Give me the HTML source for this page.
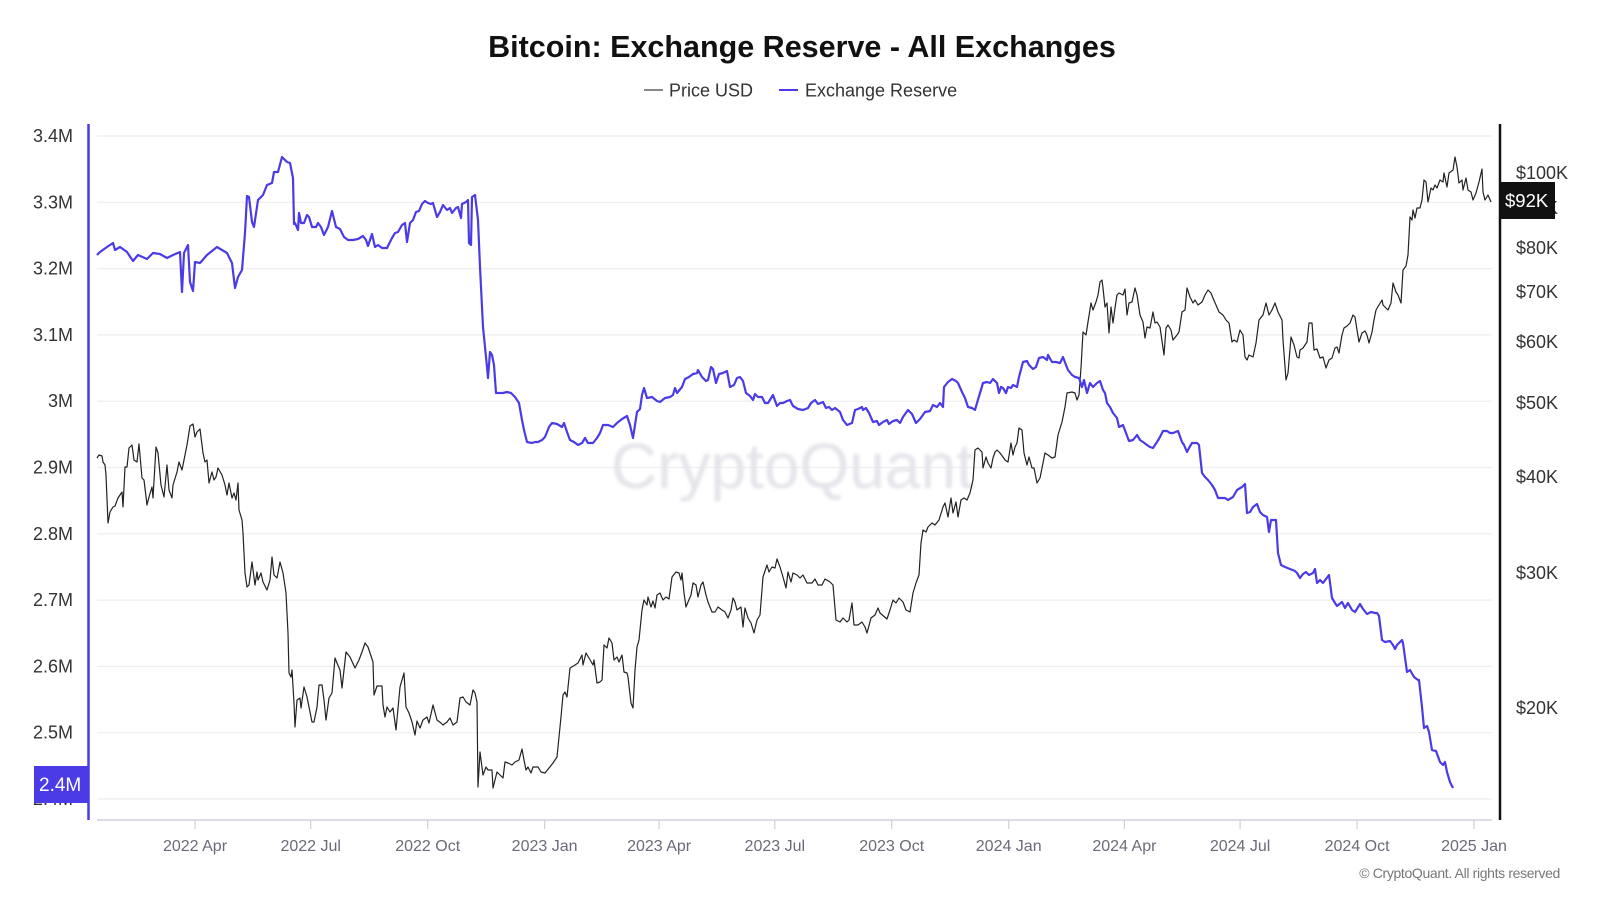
<!DOCTYPE html>
<html><head><meta charset="utf-8"><style>
html,body{margin:0;padding:0;background:#fff;}
svg{display:block;}
text{font-family:"Liberation Sans",sans-serif;}
</style></head><body>
<svg width="1600" height="900" viewBox="0 0 1600 900" xmlns="http://www.w3.org/2000/svg">
<rect width="1600" height="900" fill="#fff"/>
<text x="802" y="57" text-anchor="middle" font-size="30.5" font-weight="bold" fill="#111">Bitcoin: Exchange Reserve - All Exchanges</text>
<line x1="644" y1="90" x2="663" y2="90" stroke="#888" stroke-width="2"/>
<text x="669" y="96.5" font-size="18" fill="#333">Price USD</text>
<line x1="779" y1="90" x2="798" y2="90" stroke="#4b3be6" stroke-width="2"/>
<text x="805" y="96.5" font-size="18" fill="#333">Exchange Reserve</text>
<g stroke="#eeeef2" stroke-width="1.2">
<line x1="97" x2="1492" y1="136" y2="136"/><line x1="97" x2="1492" y1="202.3" y2="202.3"/><line x1="97" x2="1492" y1="268.6" y2="268.6"/><line x1="97" x2="1492" y1="334.9" y2="334.9"/><line x1="97" x2="1492" y1="401.2" y2="401.2"/><line x1="97" x2="1492" y1="467.5" y2="467.5"/><line x1="97" x2="1492" y1="533.8" y2="533.8"/><line x1="97" x2="1492" y1="600.1" y2="600.1"/><line x1="97" x2="1492" y1="666.4" y2="666.4"/><line x1="97" x2="1492" y1="732.7" y2="732.7"/><line x1="97" x2="1492" y1="799" y2="799"/>
</g>
<text x="611" y="488" font-size="64" fill="#e4e4ea" style="filter:blur(1.5px)">CryptoQuant</text>
<g font-size="18" fill="#333" text-anchor="end">
<text x="73" y="142">3.4M</text><text x="73" y="208.3">3.3M</text><text x="73" y="274.6">3.2M</text><text x="73" y="340.9">3.1M</text><text x="73" y="407.2">3M</text><text x="73" y="473.5">2.9M</text><text x="73" y="539.8">2.8M</text><text x="73" y="606.1">2.7M</text><text x="73" y="672.4">2.6M</text><text x="73" y="738.7">2.5M</text><text x="73" y="805">2.4M</text>
</g>
<g font-size="18" fill="#333">
<text x="1516" y="179">$100K</text><text x="1516" y="214">$90K</text><text x="1516" y="254">$80K</text><text x="1516" y="298">$70K</text><text x="1516" y="348">$60K</text><text x="1516" y="409">$50K</text><text x="1516" y="483">$40K</text><text x="1516" y="579">$30K</text><text x="1516" y="714">$20K</text>
</g>
<line x1="97" x2="1492" y1="820" y2="820" stroke="#d0d0dc" stroke-width="1.5"/>
<g stroke="#d0d0dc" stroke-width="1.2">
<line x1="195" x2="195" y1="820" y2="829"/><line x1="310.7" x2="310.7" y1="820" y2="829"/><line x1="427.7" x2="427.7" y1="820" y2="829"/><line x1="544.6" x2="544.6" y1="820" y2="829"/><line x1="659.1" x2="659.1" y1="820" y2="829"/><line x1="774.8" x2="774.8" y1="820" y2="829"/><line x1="891.7" x2="891.7" y1="820" y2="829"/><line x1="1008.7" x2="1008.7" y1="820" y2="829"/><line x1="1124.4" x2="1124.4" y1="820" y2="829"/><line x1="1240.1" x2="1240.1" y1="820" y2="829"/><line x1="1357.1" x2="1357.1" y1="820" y2="829"/><line x1="1474" x2="1474" y1="820" y2="829"/>
</g>
<g font-size="16" fill="#6b6b78" text-anchor="middle">
<text x="195" y="851">2022 Apr</text><text x="310.7" y="851">2022 Jul</text><text x="427.7" y="851">2022 Oct</text><text x="544.6" y="851">2023 Jan</text><text x="659.1" y="851">2023 Apr</text><text x="774.8" y="851">2023 Jul</text><text x="891.7" y="851">2023 Oct</text><text x="1008.7" y="851">2024 Jan</text><text x="1124.4" y="851">2024 Apr</text><text x="1240.1" y="851">2024 Jul</text><text x="1357.1" y="851">2024 Oct</text><text x="1474" y="851">2025 Jan</text>
</g>
<text x="1560" y="878" text-anchor="end" font-size="14" letter-spacing="-0.35" fill="#777">© CryptoQuant. All rights reserved</text>
<polyline fill="none" stroke="#222" stroke-width="1.2" stroke-linejoin="round" points="97,458 99,455 102,456 103,462 105,465 106,475 108,523 110,512 113,507 115,506 118,498 122,492 123,507 125,467 127,467 129,448 132,445 134,460 137,462 139,444 142,478 144,480 147,505 149,497 152,487 153,498 156,447 158,453 161,485 164,497 167,465 169,490 172,498 173,485 177,472 179,462 182,470 185,455 187,445 190,426 193,424 195,437 197,432 200,429 203,453 205,462 207,460 209,483 212,472 214,480 216,477 218,468 222,475 225,485 227,495 229,483 232,498 234,493 236,500 238,483 239,510 242,520 243,533 245,573 247,587 249,585 252,562 255,585 257,572 258,580 261,573 263,582 267,590 270,580 272,557 274,575 277,578 280,562 283,573 286,593 288,633 289,673 291,677 292,670 294,703 295,727 297,700 300,698 301,708 304,687 307,697 309,707 312,722 314,722 317,707 319,685 322,685 324,700 326,720 329,698 332,693 335,658 337,663 340,670 342,688 346,652 350,657 355,668 359,660 362,652 365,643 368,647 373,662 374,695 377,686 382,686 383,705 385,717 387,707 390,712 393,708 396,730 400,687 404,673 406,707 409,713 412,722 415,735 417,721 420,728 423,720 427,717 429,723 433,705 437,720 441,723 443,725 447,722 450,718 453,725 457,722 460,698 463,697 466,702 470,705 473,690 475,693 477,702 478,787 480,752 483,775 486,767 488,770 492,770 493,788 497,772 500,775 503,778 505,762 508,763 512,765 515,762 519,760 522,749 524,760 526,770 528,767 531,773 533,767 538,767 541,772 545,773 549,768 553,763 557,757 558,747 561,717 563,695 565,692 567,697 570,668 575,665 578,663 582,655 583,665 586,653 589,658 593,665 594,660 597,683 600,682 602,680 604,645 607,648 609,638 612,643 614,660 617,657 619,662 622,655 624,672 627,673 628,677 631,703 633,708 635,670 637,647 639,640 642,610 644,600 647,605 648,597 651,607 653,601 655,608 657,595 660,593 663,600 666,597 669,599 672,577 676,572 679,573 681,580 682,573 684,593 686,607 688,602 691,595 693,583 696,585 698,597 701,585 703,582 706,595 708,602 712,612 715,612 718,607 722,610 725,612 728,618 731,610 733,598 735,602 737,610 741,607 743,627 745,608 748,618 751,623 754,633 757,620 760,615 763,577 767,565 769,572 772,567 775,568 777,559 780,567 783,577 786,588 788,572 791,582 793,573 797,575 800,578 803,575 807,583 812,583 815,579 818,585 822,585 825,579 830,582 833,585 836,620 840,622 843,618 847,622 849,620 852,603 854,625 858,625 862,622 865,627 867,633 871,618 875,615 878,608 880,613 887,619 890,610 893,600 896,603 899,598 903,602 906,610 910,612 913,593 916,583 919,575 921,543 923,530 926,532 928,527 932,523 935,525 939,520 943,507 945,503 948,517 951,498 953,513 956,502 958,517 961,500 964,498 967,500 970,493 973,480 975,450 978,448 982,452 983,468 986,457 988,463 991,468 993,458 995,452 997,450 1000,453 1003,457 1005,460 1008,462 1011,443 1013,455 1015,447 1017,443 1019,428 1022,430 1024,453 1027,465 1029,457 1032,468 1034,468 1037,483 1040,478 1043,463 1045,453 1048,455 1052,458 1055,457 1058,435 1062,422 1065,407 1067,393 1072,392 1075,393 1077,400 1079,395 1081,368 1083,332 1086,335 1088,322 1091,303 1093,310 1096,302 1098,295 1100,282 1102,280 1103,288 1105,307 1107,303 1109,333 1111,307 1113,323 1115,308 1117,295 1119,293 1123,295 1125,289 1127,315 1129,303 1132,302 1135,288 1137,295 1140,315 1143,322 1145,338 1147,327 1150,328 1153,312 1155,323 1157,322 1160,327 1164,355 1166,328 1168,325 1171,330 1173,340 1177,335 1179,332 1182,312 1185,310 1187,288 1190,297 1193,303 1195,300 1198,305 1202,302 1205,295 1208,290 1211,293 1213,298 1216,305 1219,312 1223,315 1226,320 1229,323 1232,342 1234,340 1237,342 1240,330 1243,335 1245,357 1247,360 1249,355 1253,357 1256,343 1259,320 1263,315 1266,303 1269,315 1272,310 1275,303 1278,312 1282,320 1283,340 1286,380 1288,373 1291,337 1294,345 1297,357 1299,358 1300,350 1303,348 1307,342 1309,323 1312,323 1314,350 1317,349 1320,358 1323,357 1326,368 1329,360 1332,358 1335,348 1337,347 1339,353 1342,335 1344,328 1347,326 1350,323 1353,315 1355,317 1357,330 1359,342 1362,333 1365,331 1367,335 1369,343 1372,332 1374,320 1376,310 1379,305 1382,300 1383,305 1386,308 1388,310 1391,303 1393,283 1396,292 1398,295 1401,303 1403,270 1406,266 1408,255 1410,217 1412,220 1413,210 1415,218 1417,208 1420,208 1422,200 1424,180 1426,182 1428,202 1431,188 1433,190 1435,185 1437,188 1440,180 1443,182 1444,173 1447,187 1449,173 1453,170 1455,157 1457,167 1459,183 1462,180 1463,190 1466,178 1468,190 1471,192 1473,200 1476,193 1479,182 1482,169 1483,192 1485,200 1488,195 1491,202"/>
<polyline fill="none" stroke="#4b3be6" stroke-width="2.2" stroke-linejoin="round" points="97,255 100,252 107,247 113,243 115,250 120,247 127,252 133,261 138,255 147,259 153,253 160,254 167,258 173,255 180,252 182,292 184,253 188,245 190,282 193,291 195,262 200,263 207,255 217,247 227,253 232,263 235,288 238,277 242,270 245,233 247,196 249,197 252,222 254,227 258,200 263,195 267,185 272,183 274,172 278,172 282,157 287,162 290,163 293,178 294,224 295,223 298,230 299,213 301,223 304,223 307,215 309,217 312,227 316,227 318,223 321,227 324,235 328,227 332,211 336,227 340,229 344,237 348,240 353,240 358,239 363,236 366,240 368,246 372,234 375,247 378,245 382,248 387,248 392,238 395,233 398,232 402,225 405,223 407,242 410,223 413,220 416,212 419,211 422,204 425,201 428,203 431,204 433,203 437,217 440,212 443,205 447,210 450,208 452,213 456,208 458,207 461,218 462,204 466,202 468,200 469,243 471,245 472,197 475,195 478,220 480,267 483,327 487,367 488,378 490,352 492,355 494,365 496,393 500,393 503,393 507,392 511,393 515,397 519,403 522,420 524,430 527,442 532,443 535,442 538,442 542,440 545,437 549,427 552,423 557,424 562,427 564,423 567,432 570,440 574,442 578,445 582,443 585,438 588,443 593,443 597,438 600,433 603,425 608,425 613,427 617,423 622,419 627,416 630,425 633,438 637,412 640,409 642,395 644,388 647,398 652,397 657,401 660,402 665,398 670,397 673,395 675,388 677,393 682,387 685,379 689,377 693,374 697,373 698,370 702,377 706,381 708,380 711,367 713,369 716,383 719,374 723,373 727,371 730,387 734,385 737,378 740,377 743,381 746,393 750,396 753,400 755,394 758,397 762,397 765,403 768,403 773,395 777,406 780,403 783,403 787,401 790,400 793,406 798,409 803,410 808,408 811,403 815,400 818,404 823,402 826,408 829,407 832,410 835,408 840,412 843,420 847,425 852,423 855,410 858,409 862,407 863,410 866,408 869,413 873,422 877,421 879,425 883,422 887,420 889,424 893,421 897,420 900,423 903,417 908,410 912,414 916,423 920,419 925,412 930,411 933,405 937,407 940,403 943,407 944,387 948,382 952,379 956,381 958,383 962,392 965,398 968,407 972,408 975,410 977,403 980,393 983,383 987,382 990,383 993,379 997,383 999,393 1001,387 1003,388 1006,393 1008,387 1011,388 1013,385 1017,387 1019,377 1023,362 1027,361 1029,365 1033,369 1036,367 1039,358 1043,357 1047,360 1048,355 1052,362 1056,362 1060,363 1063,357 1066,365 1068,370 1072,375 1075,377 1079,378 1082,387 1084,380 1087,393 1090,383 1093,387 1097,383 1100,381 1103,390 1105,393 1107,403 1110,407 1113,413 1117,418 1119,427 1123,425 1126,433 1129,441 1133,440 1137,435 1140,440 1143,442 1147,445 1150,447 1153,448 1157,442 1160,437 1163,431 1167,431 1170,433 1173,433 1178,431 1182,442 1184,445 1187,452 1189,448 1192,443 1197,443 1199,445 1202,473 1205,477 1208,480 1212,485 1215,490 1218,498 1222,498 1225,498 1228,500 1233,497 1237,490 1242,487 1245,484 1247,513 1250,512 1253,507 1257,504 1260,512 1263,515 1267,517 1269,532 1271,520 1273,520 1276,520 1278,553 1281,565 1285,567 1290,569 1295,571 1297,573 1300,578 1303,574 1306,572 1309,575 1313,573 1315,569 1317,583 1320,580 1323,583 1326,579 1329,575 1332,598 1335,603 1337,606 1342,602 1345,608 1348,603 1352,610 1355,612 1360,604 1363,609 1367,614 1371,612 1375,613 1377,613 1379,616 1382,640 1385,642 1390,641 1393,645 1395,649 1397,645 1402,640 1403,643 1407,672 1410,670 1414,677 1418,680 1419,680 1422,707 1424,728 1427,726 1429,732 1432,750 1436,751 1440,762 1443,765 1445,762 1447,772 1450,782 1453,788"/>
<line x1="88.5" y1="124" x2="88.5" y2="820" stroke="#4b3be6" stroke-width="2.5"/>
<line x1="1500" y1="124" x2="1500" y2="820" stroke="#111" stroke-width="2.5"/>
<rect x="34" y="766" width="55" height="37" fill="#4b3be6"/>
<text x="39" y="791" font-size="19" fill="#fff">2.4M</text>
<rect x="1500" y="182" width="55" height="37" fill="#111"/>
<text x="1505" y="207" font-size="18.5" fill="#fff">$92K</text>
</svg>
</body></html>
